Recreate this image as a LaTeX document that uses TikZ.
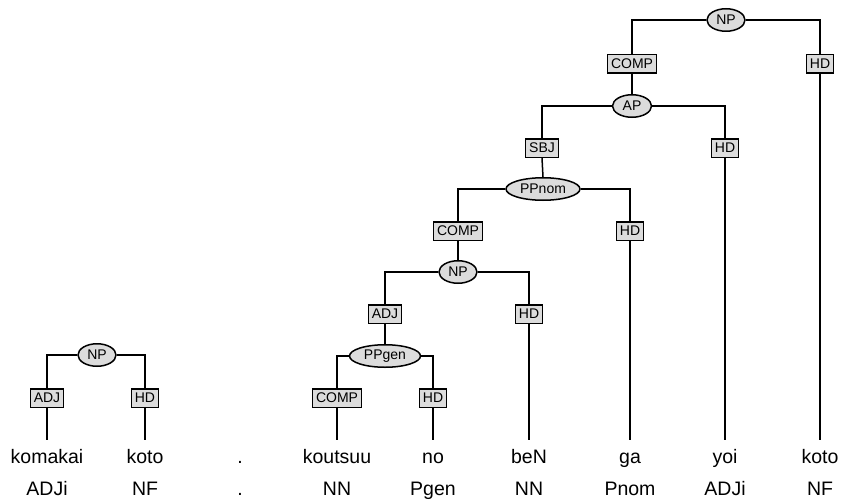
\documentclass[tikz,border=0pt]{standalone}
\usepackage{fontspec}
\setmainfont{Liberation Sans}
\usetikzlibrary{shapes.geometric}
\definecolor{nodefill}{RGB}{220,220,220}
\begin{document}
\begin{tikzpicture}[x=1pt,y=-1pt,
  every path/.style={line width=1.5pt},
  cat/.style={ellipse,draw,fill=nodefill,inner sep=0pt,minimum height=22.5pt,font=\fontsize{14}{15}\selectfont},
  fn/.style={rectangle,draw,fill=nodefill,inner xsep=3.5pt,inner ysep=0pt,minimum height=18.5pt,font=\fontsize{14}{15}\selectfont},
  word/.style={anchor=base,font=\fontsize{19.5}{22}\selectfont,text height=14pt,text depth=4pt,inner ysep=0pt,outer ysep=9pt},
  postag/.style={anchor=base,font=\fontsize{19.5}{22}\selectfont}]
\useasboundingbox (0,0) rectangle (842,500);
% words
\node[word] (w1) at (47,463) {komakai};
\node[word] (w2) at (145,463) {koto};
\node[word] (w3) at (240,463) {.};
\node[word] (w4) at (337,463) {koutsuu};
\node[word] (w5) at (433,463) {no};
\node[word] (w6) at (529,463) {beN};
\node[word] (w7) at (630,463) {ga};
\node[word] (w8) at (725,463) {yoi};
\node[word] (w9) at (820,463) {koto};
\node[postag] (p1) at (47,495) {ADJi};
\node[postag] (p2) at (145,495) {NF};
\node[postag] (p3) at (240,495) {.};
\node[postag] (p4) at (337,495) {NN};
\node[postag] (p5) at (433,495) {Pgen};
\node[postag] (p6) at (529,495) {NN};
\node[postag] (p7) at (630,495) {Pnom};
\node[postag] (p8) at (725,495) {ADJi};
\node[postag] (p9) at (820,495) {NF};
% small tree
\node[cat,minimum width=38pt] (snp) at (97,355) {NP};
\node[fn] (sadj) at (47,398) {ADJ};
\node[fn] (shd) at (145,398) {HD};
\draw (snp.west) -| (sadj.north);
\draw (snp.east) -| (shd.north);
\draw (sadj.south) -- (w1.north);
\draw (shd.south) -- (w2.north);
% big tree
\node[cat,minimum width=38pt] (np1) at (726,20) {NP};
\node[fn] (comp1) at (632,64) {COMP};
\node[fn] (hd1) at (820,64) {HD};
\node[cat,minimum width=39pt] (ap) at (632,106) {AP};
\node[fn] (sbj) at (542,148) {SBJ};
\node[fn] (hd2) at (725,148) {HD};
\node[cat,minimum width=74pt] (ppnom) at (543,189) {PPnom};
\node[fn] (comp2) at (458,231) {COMP};
\node[fn] (hd3) at (630,231) {HD};
\node[cat,minimum width=38pt] (np2) at (458,272) {NP};
\node[fn] (adj2) at (385,314) {ADJ};
\node[fn] (hd4) at (529,314) {HD};
\node[cat,minimum width=71pt] (ppgen) at (385,356) {PPgen};
\node[fn] (comp3) at (337,398) {COMP};
\node[fn] (hd5) at (433,398) {HD};
\draw (np1.west) -| (comp1.north);
\draw (np1.east) -| (hd1.north);
\draw (hd1.south) -- (w9.north);
\draw (comp1.south) -- (ap.north);
\draw (ap.west) -| (sbj.north);
\draw (ap.east) -| (hd2.north);
\draw (hd2.south) -- (w8.north);
\draw (sbj.south) -- (ppnom.north);
\draw (ppnom.west) -| (comp2.north);
\draw (ppnom.east) -| (hd3.north);
\draw (hd3.south) -- (w7.north);
\draw (comp2.south) -- (np2.north);
\draw (np2.west) -| (adj2.north);
\draw (np2.east) -| (hd4.north);
\draw (hd4.south) -- (w6.north);
\draw (adj2.south) -- (ppgen.north);
\draw (ppgen.west) -| (comp3.north);
\draw (ppgen.east) -| (hd5.north);
\draw (comp3.south) -- (w4.north);
\draw (hd5.south) -- (w5.north);
\end{tikzpicture}
\end{document}
